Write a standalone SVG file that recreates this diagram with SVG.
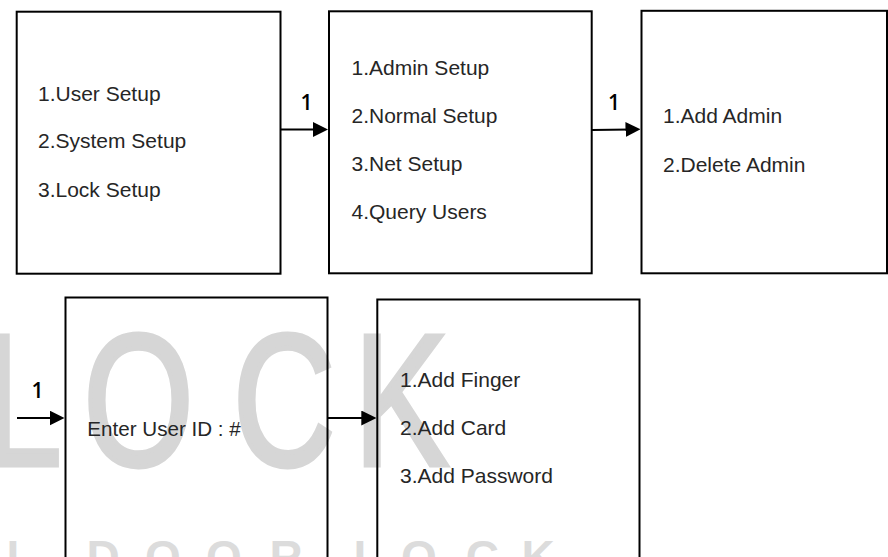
<svg xmlns="http://www.w3.org/2000/svg" width="888" height="557" viewBox="0 0 888 557">
  <style>
    .box { fill: none; stroke: #000; stroke-width: 2; }
    .t { font-family: "Liberation Sans", Arial, sans-serif; font-size: 21px; fill: #262626; }
    .lbl { font-family: "Open Sans", "Noto Sans", "Liberation Sans", sans-serif; font-size: 21px; font-weight: 600; fill: #000; text-anchor: middle; }
    .wm { font-family: "Liberation Sans", Arial, sans-serif; font-size: 187px; fill: #d6d6d6; stroke: #d6d6d6; stroke-width: 5; stroke-linejoin: miter; }
    .wm2 { font-family: "Liberation Sans", Arial, sans-serif; font-size: 46px; font-weight: bold; fill: #dcdcdc; }
    .conn { stroke: #000; stroke-width: 2; fill: none; }
  </style>
  <defs>
    <marker id="arrow" viewBox="0 0 15 15" refX="5" refY="7.5" markerWidth="15" markerHeight="15" markerUnits="userSpaceOnUse" orient="auto">
      <path d="M0,0 L15,7.5 L0,15 z" fill="#000"/>
    </marker>
  </defs>
  <rect x="0" y="0" width="888" height="557" fill="#fff"/>

  <g id="watermark">
    <text class="wm" transform="translate(-17,464.5) scale(0.757,1)">L</text>
    <text class="wm" transform="translate(83.5,464.5) scale(0.757,1)">O</text>
    <text class="wm" transform="translate(233,464.5) scale(0.757,1)">C</text>
    <text class="wm" transform="translate(354,464.5) scale(0.757,1)">K</text>
    <text class="wm2" x="6.6" y="573">L</text>
    <text class="wm2" x="86.6" y="573">D</text>
    <text class="wm2" x="145" y="573">O</text>
    <text class="wm2" x="206" y="573">O</text>
    <text class="wm2" x="269.6" y="573">R</text>
    <text class="wm2" x="353.6" y="573">L</text>
    <text class="wm2" x="401" y="573">O</text>
    <text class="wm2" x="465.7" y="573">C</text>
    <text class="wm2" x="521.6" y="573">K</text>
  </g>

  <g id="node-main-menu">
    <rect class="box" x="16.7" y="11.7" width="263.8" height="262"/>
    <text class="t" x="38" y="100.7">1.User Setup</text>
    <text class="t" x="38" y="148.3">2.System Setup</text>
    <text class="t" x="38" y="196.5">3.Lock Setup</text>
  </g>

  <g id="node-user-setup">
    <rect class="box" x="329" y="11.3" width="262.7" height="262"/>
    <text class="t" x="351.5" y="75">1.Admin Setup</text>
    <text class="t" x="351.5" y="123.3">2.Normal Setup</text>
    <text class="t" x="351.5" y="171">3.Net Setup</text>
    <text class="t" x="351.5" y="219.3">4.Query Users</text>
  </g>

  <g id="node-admin-setup">
    <rect class="box" x="641.5" y="10.8" width="245.5" height="262.5"/>
    <text class="t" x="663" y="123.3">1.Add Admin</text>
    <text class="t" x="663" y="171.5">2.Delete Admin</text>
  </g>

  <g id="node-enter-id">
    <rect class="box" x="65.5" y="297.5" width="262" height="290"/>
    <text class="t" x="87.3" y="435.5" textLength="153.5" lengthAdjust="spacingAndGlyphs">Enter User ID : #</text>
  </g>

  <g id="node-add-method">
    <rect class="box" x="377.3" y="299.5" width="262.2" height="290"/>
    <text class="t" x="400" y="387.3">1.Add Finger</text>
    <text class="t" x="400" y="435.3">2.Add Card</text>
    <text class="t" x="400" y="483.3">3.Add Password</text>
  </g>

  <g id="connectors">
    <line class="conn" x1="281" y1="129.5" x2="318" y2="129.5" marker-end="url(#arrow)"/>
    <text class="lbl" x="306.5" y="110">1</text>
    <line class="conn" x1="592" y1="130" x2="630.5" y2="129.5" marker-end="url(#arrow)"/>
    <text class="lbl" x="614" y="110">1</text>
    <line class="conn" x1="17" y1="418" x2="54.5" y2="418" marker-end="url(#arrow)"/>
    <text class="lbl" x="37.5" y="398">1</text>
    <line class="conn" x1="327.5" y1="418" x2="366.3" y2="418" marker-end="url(#arrow)"/>
  </g>
</svg>
